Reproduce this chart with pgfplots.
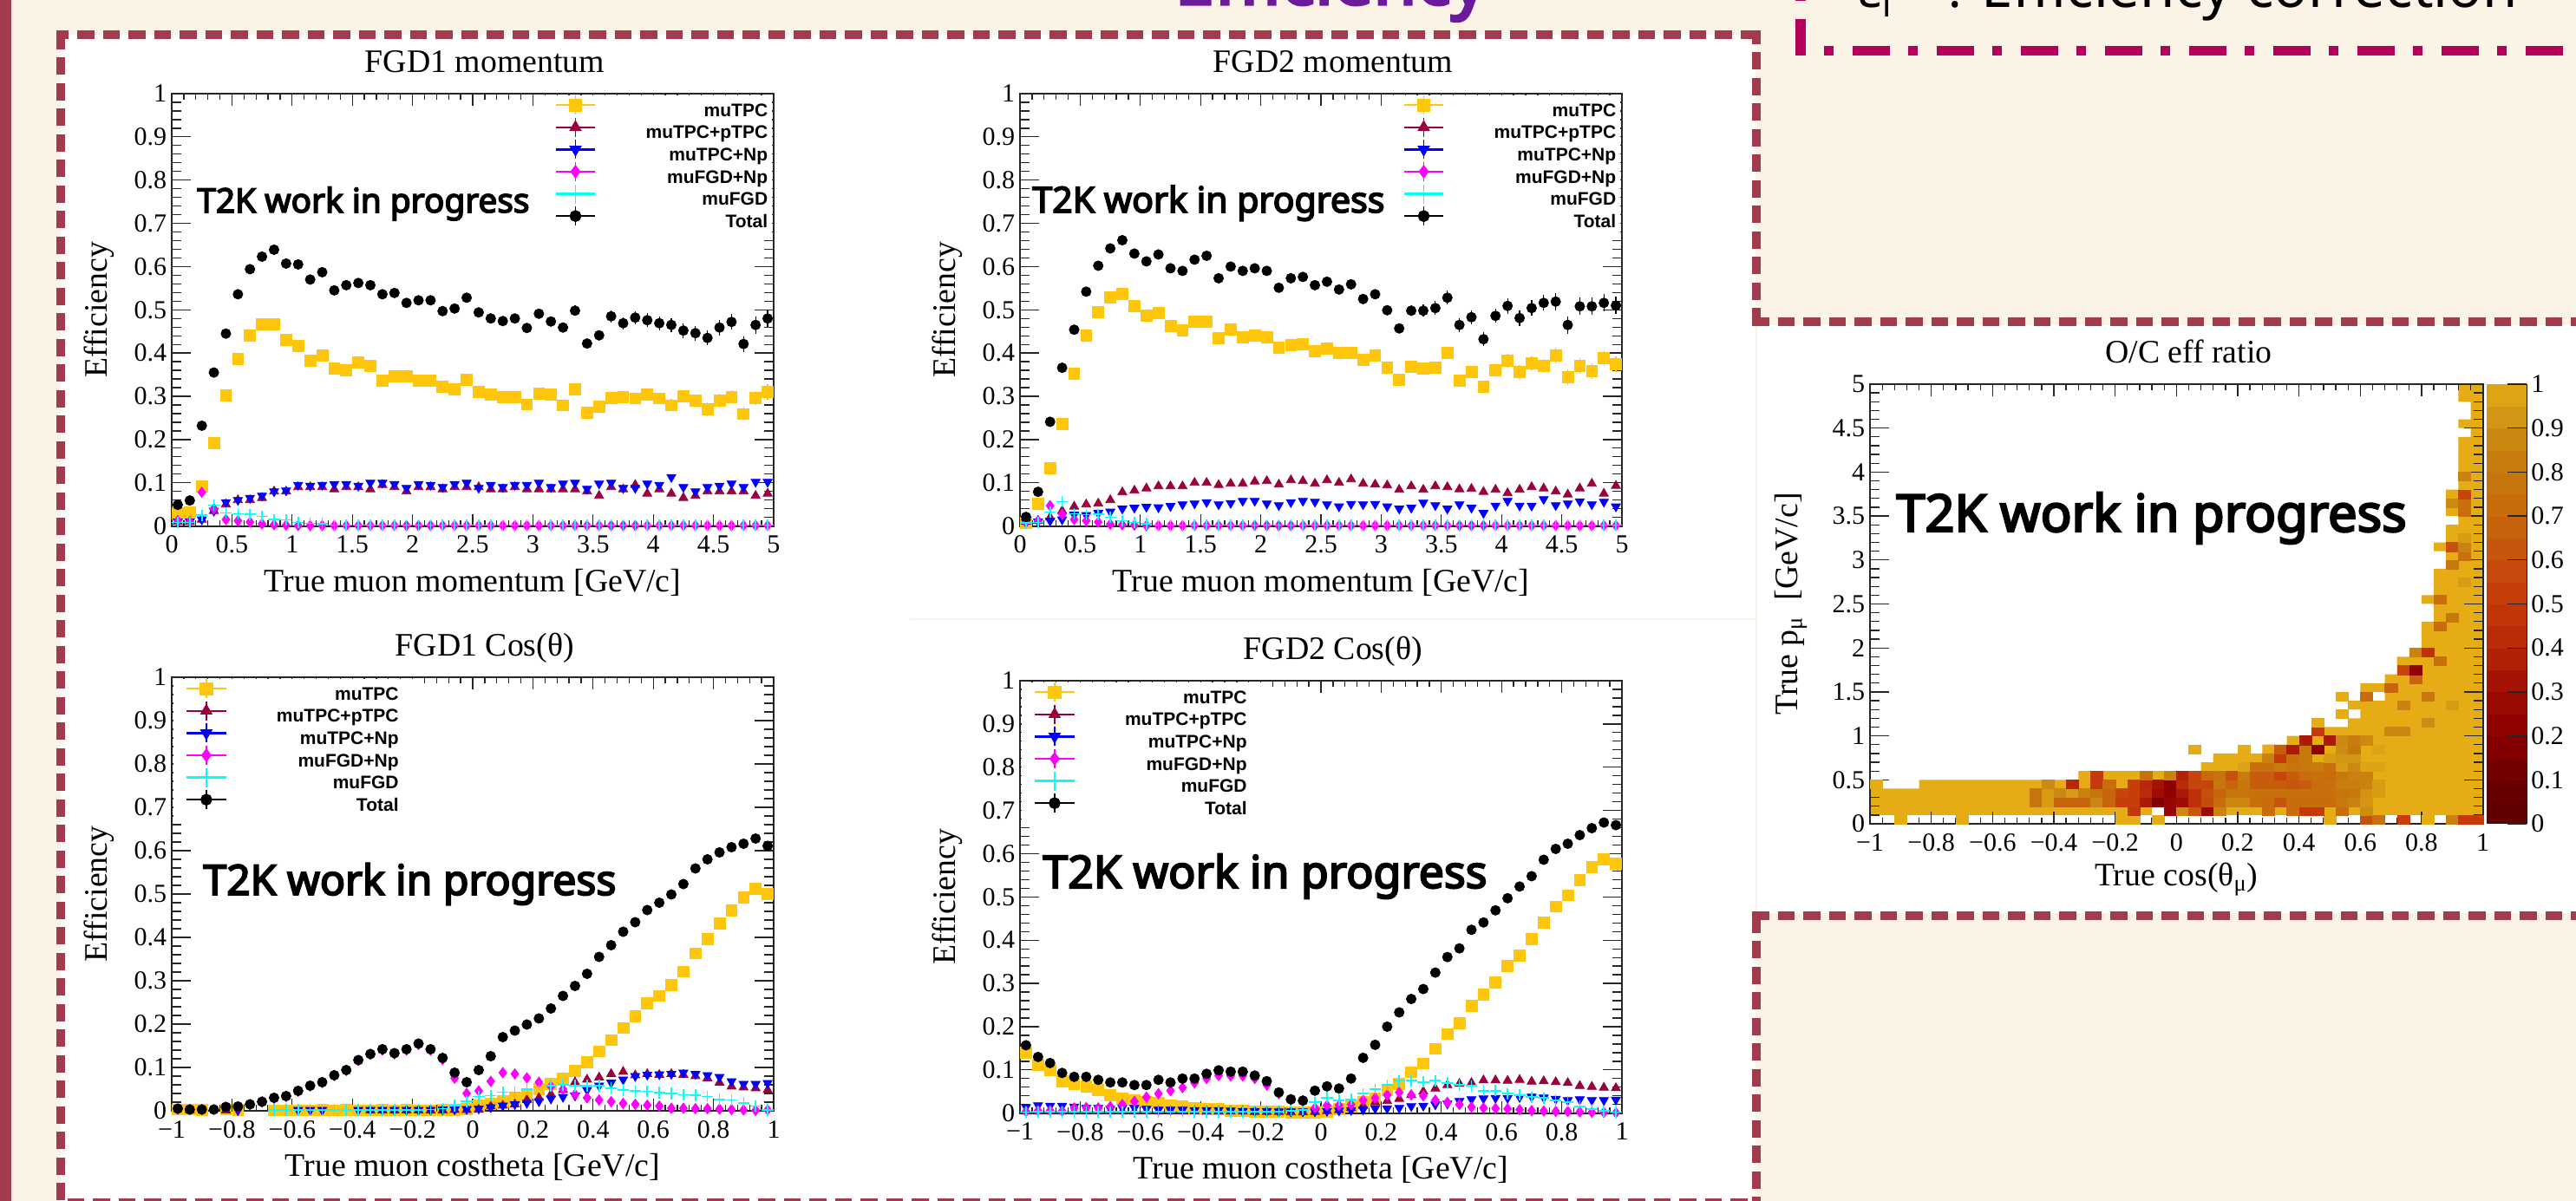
\documentclass[border=0pt]{standalone}
\usepackage{fontspec}
\usepackage{graphicx}
\usepackage{pgfplots}
\usepackage{pgfplotstable}
\pgfplotsset{compat=1.18}
\usetikzlibrary{plotmarks}
\setmainfont{Liberation Serif}
\newfontfamily\legfont{Liberation Sans}
\newfontfamily\noto[AutoFakeBold=4]{Noto Sans}

\definecolor{cream}{HTML}{FBF3E5}
\definecolor{rose}{HTML}{A33B4E}
\definecolor{crimson}{HTML}{B5005B}
\definecolor{violet}{HTML}{6A1B9A}
\definecolor{ctpc}{HTML}{FFC60B}
\definecolor{cptpc}{HTML}{99003D}
\definecolor{cnp}{RGB}{0,0,255}
\definecolor{cfgdnp}{RGB}{255,0,255}
\definecolor{cfgd}{RGB}{0,255,255}
\definecolor{cgold}{HTML}{E5AC16}

% one heat map bin: 14.13 x 10.14 px at 2 px per pt
\pgfdeclareplotmark{cell}{%
  \pgfpathrectangle{\pgfpoint{-3.53pt}{-2.535pt}}{\pgfpoint{7.06pt}{5.07pt}}%
  \pgfusepathqfillstroke}

% FGD1 momentum
\pgfplotstableread{
x tpc ptpc np fgdnp fgd tot etpc etot
0.05 .030 .010 .010 .012 .008 .049 0 0
0.15 .032 .010 .010 .010 .008 .059 0 0
0.25 .091 .015 .015 .078 .025 .232 0 0
0.35 .192 .035 .035 .040 .048 .355 0 0
0.45 .302 .050 .055 .015 .030 .445 0 0
0.55 .387 .060 .060 .012 .028 .536 0 0
0.65 .441 .060 .065 .009 .027 .594 0 0
0.75 .466 .065 .070 .005 .022 .623 0 0
0.85 .466 .080 .080 .003 .015 .639 0 0
0.95 .430 .080 .082 .002 .014 .607 0 0
1.05 .416 .090 .095 .001 .008 .605 .002 .003
1.15 .382 .090 .093 .001 .006 .570 .002 .003
1.25 .394 .090 .095 .001 .005 .587 .002 .003
1.35 .364 .085 .097 .001 .002 .545 .002 .003
1.45 .361 .090 .097 .001 .002 .557 .002 .003
1.55 .379 .090 .093 .001 .002 .562 .003 .004
1.65 .370 .085 .100 .001 .002 .557 .003 .004
1.75 .336 .095 .100 .001 .002 .536 .003 .004
1.85 .347 .090 .097 .001 .002 .539 .003 .004
1.95 .347 .080 .088 .001 .002 .516 .003 .004
2.05 .336 .090 .097 .001 .002 .522 .004 .005
2.15 .336 .090 .095 .001 .002 .522 .004 .005
2.25 .322 .085 .090 .001 .002 .497 .004 .005
2.35 .316 .090 .097 .001 .002 .503 .004 .005
2.45 .339 .090 .100 .001 .002 .528 .005 .006
2.55 .311 .090 .088 .001 .002 .494 .005 .006
2.65 .305 .085 .095 .001 .002 .480 .005 .006
2.75 .299 .085 .090 .001 .002 .474 .005 .007
2.85 .299 .090 .095 .001 .002 .480 .006 .007
2.95 .281 .085 .095 .001 .002 .458 .006 .007
3.05 .307 .085 .100 .001 .002 .491 .006 .008
3.15 .305 .085 .090 .001 .002 .473 .006 .008
3.25 .279 .085 .098 .001 .002 .459 .007 .009
3.35 .316 .085 .100 .001 .002 .498 .007 .012
3.45 .262 .080 .086 .001 .002 .422 .007 .012
3.55 .276 .070 .098 .001 .002 .441 .008 .012
3.65 .296 .090 .100 .001 .002 .485 .010 .014
3.75 .298 .085 .088 .001 .002 .469 .012 .014
3.85 .295 .095 .088 .001 .002 .482 .012 .015
3.95 .305 .075 .098 .001 .002 .476 .014 .016
4.05 .295 .085 .095 .001 .002 .469 .014 .016
4.15 .279 .075 .113 .001 .002 .465 .014 .016
4.25 .300 .065 .090 .001 .002 .452 .015 .017
4.35 .290 .070 .080 .001 .002 .446 .015 .017
4.45 .270 .080 .090 .001 .002 .435 .016 .017
4.55 .290 .080 .093 .001 .002 .459 .016 .018
4.65 .299 .080 .098 .001 .002 .472 .016 .018
4.75 .259 .080 .090 .001 .002 .421 .016 .018
4.85 .296 .070 .102 .001 .002 .465 .016 .020
4.95 .310 .075 .102 .001 .002 .480 .018 .020
}\tabA

% FGD2 momentum
\pgfplotstableread{
x tpc ptpc np fgdnp fgd tot etpc etot
0.05 .008 .010 .008 .010 .007 .021 0 0
0.15 .052 .012 .010 .012 .008 .079 0 0
0.25 .133 .020 .012 .047 .032 .241 0 0
0.35 .236 .035 .015 .027 .056 .366 0 0
0.45 .352 .045 .026 .015 .028 .454 0 0
0.55 .441 .050 .025 .012 .026 .542 0 0
0.65 .494 .052 .030 .009 .027 .602 0 0
0.75 .529 .060 .033 .004 .020 .642 0 0
0.85 .537 .078 .040 .003 .012 .661 0 0
0.95 .508 .082 .042 .002 .008 .630 0 0
1.05 .486 .087 .044 .001 .005 .612 .002 .003
1.15 .492 .092 .043 .001 .002 .628 .002 .003
1.25 .463 .092 .046 .001 .002 .596 .002 .003
1.35 .453 .092 .050 .001 .002 .590 .002 .003
1.45 .472 .100 .052 .001 .002 .616 .002 .003
1.55 .472 .100 .055 .001 .002 .625 .003 .004
1.65 .435 .095 .050 .001 .002 .573 .003 .004
1.75 .454 .098 .053 .001 .002 .600 .003 .004
1.85 .437 .098 .058 .001 .002 .590 .003 .004
1.95 .441 .103 .058 .001 .002 .596 .003 .004
2.05 .437 .104 .052 .001 .002 .590 .004 .005
2.15 .412 .096 .048 .001 .002 .551 .004 .005
2.25 .418 .106 .055 .001 .002 .573 .004 .005
2.35 .421 .104 .058 .001 .002 .576 .004 .005
2.45 .404 .098 .056 .001 .002 .557 .005 .006
2.55 .410 .106 .050 .001 .002 .565 .005 .006
2.65 .401 .100 .045 .001 .002 .547 .005 .006
2.75 .401 .108 .051 .001 .002 .559 .005 .007
2.85 .384 .098 .050 .001 .002 .525 .006 .007
2.95 .395 .096 .051 .001 .002 .536 .006 .007
3.05 .367 .094 .045 .001 .002 .499 .006 .008
3.15 .339 .084 .040 .001 .002 .457 .006 .008
3.25 .369 .092 .042 .001 .002 .498 .010 .012
3.35 .365 .084 .054 .001 .002 .498 .012 .014
3.45 .367 .092 .048 .001 .002 .504 .014 .016
3.55 .400 .090 .040 .001 .002 .528 .014 .016
3.65 .336 .085 .050 .001 .002 .465 .014 .016
3.75 .356 .086 .042 .001 .002 .483 .014 .016
3.85 .323 .079 .030 .001 .002 .432 .014 .016
3.95 .361 .084 .047 .001 .002 .486 .014 .016
4.05 .382 .076 .058 .001 .002 .509 .016 .018
4.15 .356 .084 .047 .001 .002 .481 .016 .018
4.25 .376 .090 .047 .001 .002 .504 .016 .018
4.35 .370 .087 .062 .001 .002 .516 .016 .018
4.45 .394 .080 .048 .001 .002 .519 .018 .020
4.55 .344 .073 .052 .001 .002 .465 .018 .020
4.65 .370 .087 .057 .001 .002 .508 .018 .020
4.75 .359 .098 .050 .001 .002 .508 .018 .020
4.85 .388 .075 .056 .001 .002 .516 .018 .020
4.95 .375 .093 .045 .001 .002 .510 .018 .020
}\tabB

% FGD1 cos(theta)
\pgfplotstableread{
x tpc ptpc np fgdnp fgd tot etpc etot
-0.98 .003 nan nan .004 nan .005 0 0
-0.94 .003 .002 nan .003 nan .003 0 0
-0.90 .002 nan nan .003 nan .003 0 0
-0.86 nan nan nan .003 nan .003 0 0
-0.82 .003 .001 nan .008 nan .009 0 .008
-0.78 .002 nan .001 .009 nan .010 0 .008
-0.74 nan nan nan .014 nan .015 0 .005
-0.70 nan nan nan .020 nan .021 0 .012
-0.66 .001 nan nan .029 .002 .030 0 .012
-0.62 .001 nan nan .033 .002 .034 0 .012
-0.58 .001 nan .002 .045 .002 .046 0 0
-0.54 .001 nan .002 .057 .002 .058 0 0
-0.50 .002 nan .002 .065 .002 .066 0 0
-0.46 .001 nan nan .081 .002 .082 0 0
-0.42 .002 nan nan .093 .002 .094 0 0
-0.38 .001 nan .002 .116 .002 .117 0 0
-0.34 .001 .001 .002 .130 .002 .131 0 0
-0.30 .002 .001 .002 .140 .002 .142 0 0
-0.26 .001 .001 .002 .131 .002 .133 0 0
-0.22 .002 .001 .002 .140 .002 .142 0 0
-0.18 .001 .001 .002 .153 .002 .155 0 0
-0.14 .001 .001 .002 .140 .003 .142 0 0
-0.10 .002 .001 .003 .118 .005 .122 0 0
-0.06 .002 .002 .003 .075 .012 .088 0 0
-0.02 .004 .002 .004 .040 .022 .066 0 0
0.02 .012 .003 .005 .046 .033 .094 0 0
0.06 .017 .010 .008 .068 .035 .126 0 0
0.10 .022 .012 .012 .088 .043 .170 0 0
0.14 .028 .015 .015 .085 .043 .185 0 0
0.18 .038 .025 .018 .076 .050 .199 0 0
0.22 .050 .030 .022 .066 .055 .213 0 0
0.26 .062 .038 .028 .056 .058 .236 0 0
0.30 .074 .048 .032 .050 .060 .265 0 0
0.34 .092 .066 .035 .038 .058 .288 0 0
0.38 .112 .072 .048 .030 .058 .316 0 0
0.42 .137 .077 .058 .025 .058 .355 0 0
0.46 .163 .085 .065 .021 .052 .382 0 0
0.50 .191 .090 .072 .017 .048 .413 0 0
0.54 .218 .082 .080 .015 .046 .435 0 0
0.58 .248 .085 .083 .013 .045 .463 0 0
0.62 .265 .083 .084 .011 .042 .480 0 0
0.66 .290 .085 .085 .006 .040 .499 0 0
0.70 .321 .083 .088 .006 .037 .523 0 0
0.74 .363 .080 .085 .005 .036 .559 0 0
0.78 .396 .075 .082 .005 .033 .580 0 0
0.82 .432 .065 .078 .004 .026 .596 0 0
0.86 .462 .056 .068 .003 .025 .608 0 0
0.90 .492 .054 .062 .002 .018 .616 0 0
0.94 .512 .052 .062 .001 .011 .628 0 0
0.98 .500 .048 .064 .002 .002 .611 0 0
}\tabC

% FGD2 cos(theta)
\pgfplotstableread{
x tpc ptpc np fgdnp fgd tot etpc etot
-0.98 .140 .004 .014 .004 .002 .157 0 0
-0.94 .112 .004 .018 .006 .003 .130 0 0
-0.90 .100 .004 .017 .006 .003 .116 0 0
-0.86 .073 .004 .017 .005 .003 .093 0 0
-0.82 .067 .004 .015 .012 .003 .084 0 0
-0.78 .061 .004 .012 .013 .003 .084 0 0
-0.74 .053 .004 .012 .012 .003 .077 0 0
-0.70 .041 .004 .010 .015 .003 .071 0 0
-0.66 .033 .004 .012 .020 .003 .071 0 0
-0.62 .029 .004 .012 .027 .003 .065 0 0
-0.58 .025 .004 .010 .037 .003 .065 0 0
-0.54 .024 .004 .008 .045 .003 .077 0 0
-0.50 .018 .004 .008 .052 .003 .071 0 0
-0.46 .015 .004 .008 .059 .003 .080 0 0
-0.42 .012 .004 .007 .070 .003 .080 0 0
-0.38 .010 .004 .007 .080 .003 .091 0 0
-0.34 .009 .004 .007 .087 .003 .099 0 0
-0.30 .006 .004 .006 .086 .003 .096 0 0
-0.26 .005 .004 .005 .086 .003 .096 0 0
-0.22 .004 .003 .005 .080 .003 .087 0 0
-0.18 .004 .003 .005 .065 .003 .074 0 0
-0.14 .003 .003 .004 .045 .003 .048 0 0
-0.10 .002 .002 .004 .030 .006 .032 0 0
-0.06 .002 .002 .004 .028 .008 .029 0 0
-0.02 .002 .003 .004 .012 .025 .052 0 0
0.02 .004 .005 .005 .018 .036 .062 0 0
0.06 .010 .007 .006 .018 .030 .057 0 0
0.10 .015 .012 .007 .020 .032 .080 0 0
0.14 .025 .017 .008 .030 .045 .128 0 0
0.18 .033 .025 .011 .035 .055 .158 0 0
0.22 .053 .028 .011 .042 .065 .200 0 0
0.26 .068 .033 .012 .048 .075 .233 0 0
0.30 .095 .042 .016 .042 .075 .264 0 0
0.34 .115 .050 .017 .040 .072 .287 0 0
0.38 .149 .057 .020 .030 .075 .325 0 0
0.42 .183 .065 .022 .025 .070 .361 0 0
0.46 .208 .068 .028 .020 .065 .381 0 0
0.50 .249 .070 .032 .014 .063 .424 0 0
0.54 .274 .076 .034 .012 .052 .441 0 0
0.58 .302 .076 .035 .011 .052 .469 0 0
0.62 .340 .075 .035 .010 .045 .497 0 0
0.66 .365 .077 .037 .008 .042 .524 0 0
0.70 .402 .073 .038 .006 .037 .548 0 0
0.74 .441 .074 .036 .005 .035 .586 0 0
0.78 .478 .072 .033 .004 .030 .611 0 0
0.82 .504 .070 .030 .004 .026 .623 0 0
0.86 .539 .063 .032 .003 .016 .643 0 0
0.90 .569 .061 .030 .002 .009 .659 0 0
0.94 .587 .059 .030 .002 .005 .672 0 0
0.98 .577 .058 .031 .001 .002 .666 0 0
}\tabD

\pgfplotsset{
  colormap={ratio}{rgb255=(92,0,0) rgb255=(110,0,0) rgb255=(140,0,0) rgb255=(160,12,4)
    rgb255=(182,40,7) rgb255=(198,58,9) rgb255=(198,80,13) rgb255=(200,105,12)
    rgb255=(198,120,12) rgb255=(204,141,19) rgb255=(229,172,22)},
  legpad/.initial=0pt,
  rootframe/.style={
    scale only axis, clip=false,
    axis line style={line width=1pt,color=black!85},
    major tick length=10.8pt, minor tick length=5.4pt,
    tick style={color=black!85,line width=0.65pt},
    xtick style={/pgfplots/major tick length=7pt,/pgfplots/minor tick length=3.5pt},
    minor tick num=4,
    tick label style={font=\fontsize{15}{15}\selectfont,inner sep=0pt},
    xticklabel shift=5.5pt, yticklabel shift=2.7pt,
    title style={font=\fontsize{18.9}{19}\selectfont,at={(axis description cs:0.52,1)},anchor=base,yshift=6pt},
    label style={font=\fontsize{18.9}{19}\selectfont},
    xlabel style={at={(axis description cs:0.5,-0.152)},anchor=base},
    ylabel style={at={(axis description cs:-0.1067,0.5)},anchor=base},
  },
  eff/.style={
    rootframe, width=347pt,
    ymin=0, ymax=1,
    ytick={0,0.1,0.2,0.3,0.4,0.5,0.6,0.7,0.8,0.9,1},
    yticklabels={0,0.1,0.2,0.3,0.4,0.5,0.6,0.7,0.8,0.9,1},
    ylabel={Efficiency},
    legend cell align=right,
    legend style={
      draw=none, fill=white, inner xsep=2.5pt, inner ysep=4.8pt, row sep=5.6pt,
      /tikz/column 1/.style={column sep=29pt},
      nodes={inner sep=0pt,text height=7.2pt,text depth=0pt,
             font=\legfont\fontsize{10.5}{10.5}\selectfont\bfseries},
    },
    legend image code/.code={
      \path (-\pgfkeysvalueof{/pgfplots/legpad},0) (22.7pt,0);
      \draw[overlay,yshift=3pt,##1,sharp plot,mark=none,line width=0.6pt] plot coordinates {(11.35pt,-5.5pt)(11.35pt,5.5pt)};
      \draw[overlay,yshift=3pt,##1,sharp plot,mark repeat=2,mark phase=2,line width=1.2pt] plot coordinates {(0pt,0pt)(11.35pt,0pt)(22.7pt,0pt)};
    },
    legend entries={muTPC\hspace*{\legrp},muTPC+pTPC\hspace*{\legrp},muTPC+Np\hspace*{\legrp},muFGD+Np\hspace*{\legrp},muFGD\hspace*{\legrp},Total\hspace*{\legrp}},
  },
  momentum/.style={
    eff, xmin=0, xmax=5,
    xtick={0,0.5,1,1.5,2,2.5,3,3.5,4,4.5,5},
    xticklabels={0,0.5,1,1.5,2,2.5,3,3.5,4,4.5,5},
    xlabel={True muon momentum [GeV/c]},
    legpad=9pt,
    legend style={at={(1,1)},anchor=north east,xshift=-0.7pt,yshift=-1pt},
  },
  costheta/.style={
    eff, xmin=-1, xmax=1,
    xtick={-1,-0.8,-0.6,-0.4,-0.2,0,0.2,0.4,0.6,0.8,1},
    xticklabels={−1,−0.8,−0.6,−0.4,−0.2,0,0.2,0.4,0.6,0.8,1},
    xlabel={True muon costheta [GeV/c]},
    legpad=5pt,
    legend style={at={(0,1)},anchor=north west,xshift=0.7pt,yshift=-1pt},
  },
  s tpc/.style={only marks,color=ctpc,mark=square*,mark size=3.2pt,mark options={solid}},
  s ptpc/.style={only marks,color=cptpc,mark=triangle*,mark size=3pt,mark options={solid}},
  s np/.style={only marks,color=cnp,mark=triangle*,mark size=3pt,mark options={solid,rotate=180}},
  s fgdnp/.style={only marks,color=cfgdnp,mark=diamond*,mark size=3pt,mark options={solid}},
  s fgd/.style={only marks,color=cfgd,mark=+,mark size=3.3pt,mark options={solid,line width=0.8pt}},
  s tot/.style={only marks,color=black,mark=*,mark size=2.8pt,mark options={solid}},
  bars/.style={error bars/.cd,y dir=both,y explicit,error mark=none,error bar style={line width=0.6pt}},
}

\newcommand{\effplots}[1]{%
  \addplot[s tpc,bars] table[x=x,y=tpc,y error=etpc]{#1};
  \addplot[s ptpc] table[x=x,y=ptpc]{#1};
  \addplot[s np] table[x=x,y=np]{#1};
  \addplot[s fgdnp] table[x=x,y=fgdnp]{#1};
  \addplot[s fgd] table[x=x,y=fgd]{#1};
  \addplot[s tot,bars] table[x=x,y=tot,y error=etot]{#1};
}
\newcommand{\wip}[1]{\resizebox{#1}{!}{\noto\bfseries T2K work in progress}}

\begin{document}
\begin{tikzpicture}
\useasboundingbox (0,0) rectangle (1485pt,692.5pt);
\clip (0,0) rectangle (1485pt,692.5pt);

% slide background: 1 px of the reference is 0.5pt here
\fill[cream] (0,0) rectangle (1485pt,692.5pt);
\fill[rose] (0,0) rectangle (6.5pt,692.5pt);
\fill[white] (35pt,0) rectangle (1012pt,672.5pt);
\fill[white] (1013pt,166pt) rectangle (1485pt,505pt);
\draw[cream,line width=1pt] (524.5pt,335.5pt) -- (1012pt,335.5pt);

\begin{scope}[rose,line width=5pt,dash pattern=on 9.8pt off 4.95pt]
  \draw[dash phase=2.7pt] (32.5pt,672.5pt) -- (1012.5pt,672.5pt);
  \draw (35pt,674pt) -- (35pt,0pt);
  \draw[dash phase=2pt] (1012.5pt,675pt) -- (1012.5pt,507pt);
  \draw (1010pt,507pt) -- (1485pt,507pt);
  \draw (1010pt,164.5pt) -- (1485pt,164.5pt);
  \draw (1012.5pt,164.5pt) -- (1012.5pt,0pt);
  \draw (38.8pt,-1pt) -- (1012.5pt,-1pt);
\end{scope}

% crimson box at the top right
\fill[crimson] (1035pt,692.5pt) rectangle (1041pt,692pt);
\fill[crimson] (1035pt,660.5pt) rectangle (1041pt,681.5pt);
\draw[crimson,line width=5.5pt,dash pattern=on 5.5pt off 10.75pt on 21.5pt off 10.75pt] (1051.5pt,663.25pt) -- (1485pt,663.25pt);

% headings cut by the top of the page
\node[anchor=base west,inner sep=0pt,text=violet] at (677pt,690pt) {\resizebox{180pt}{!}{\noto\bfseries Efficiency}};
\node[anchor=base west,inner sep=0pt] at (1071pt,688pt) {\noto\fontsize{29}{29}\selectfont ε};
\node[anchor=base west,inner sep=0pt] at (1085pt,682.5pt) {\noto\fontsize{20}{20}\selectfont l};
\node[anchor=base west,inner sep=0pt] at (1123pt,688pt) {\noto\fontsize{29}{29}\selectfont :};
\node[anchor=base west,inner sep=0pt] at (1142pt,688pt) {\resizebox{309pt}{!}{\noto Efficiency correction}};

% FGD1 momentum
\def\legrp{0pt}
\begin{axis}[momentum,height=249.3pt,at={(99pt,389.2pt)},anchor=south west,title={FGD1 momentum}]
\effplots{\tabA}
\end{axis}

% FGD2 momentum
\begin{axis}[momentum,height=249.3pt,at={(588pt,389.2pt)},anchor=south west,title={FGD2 momentum}]
\effplots{\tabB}
\end{axis}

% FGD1 cos
\def\legrp{6.5pt}
\begin{axis}[costheta,height=250pt,at={(99pt,52pt)},anchor=south west,title={FGD1 Cos(θ)}]
\effplots{\tabC}
\end{axis}

% FGD2 cos
\begin{axis}[costheta,height=249.35pt,at={(588pt,50.65pt)},anchor=south west,title={FGD2 Cos(θ)}]
\effplots{\tabD}
\end{axis}

% O/C efficiency ratio
\begin{axis}[rootframe,width=353.3pt,height=253.5pt,at={(1078pt,217.5pt)},anchor=south west,
  axis on top,
  xmin=-1,xmax=1,ymin=0,ymax=5,
  xtick={-1,-0.8,-0.6,-0.4,-0.2,0,0.2,0.4,0.6,0.8,1},
  xticklabels={−1,−0.8,−0.6,−0.4,−0.2,0,0.2,0.4,0.6,0.8,1},
  ytick={0,0.5,1,1.5,2,2.5,3,3.5,4,4.5,5},
  yticklabels={0,0.5,1,1.5,2,2.5,3,3.5,4,4.5,5},
  title={O/C eff ratio},
  xlabel={True cos(θ\textsubscript{μ})},
  ylabel={True p\textsubscript{μ}\ \ [GeV/c]},
  ylabel style={at={(axis description cs:-0.1182,0.5)},anchor=base},
  xlabel style={at={(axis description cs:0.5,-0.142)},anchor=base},
  point meta min=0,point meta max=1,
  colorbar,colorbar sampled,
  colorbar style={
    samples=21,
    at={(1.0062,0)},anchor=south west,width=23pt,
    axis y line*=right,axis x line=none,
    tick align=inside,
    major tick length=11pt,
    ytick={0,0.1,0.2,0.3,0.4,0.5,0.6,0.7,0.8,0.9,1},
    yticklabels={0,0.1,0.2,0.3,0.4,0.5,0.6,0.7,0.8,0.9,1},
    minor tick num=0,
    yticklabel shift=2.5pt,
  },
]
% the bins at full ratio, as one outline
\addplot[fill=cgold,draw=none,forget plot] coordinates {
  (1,0.1) (-0.04,0.1) (-0.04,0.2) (-0.08,0.2) (-0.08,0.1) (-1,0.1) (-1,0.4) (-0.84,0.4) (-0.84,0.5)
  (-0.32,0.5) (-0.32,0.6) (0.08,0.6) (0.08,0.7) (0.12,0.7) (0.12,0.8) (0.28,0.8) (0.28,0.9)
  (0.36,0.9) (0.36,1.0) (0.44,1.0) (0.44,1.1) (0.56,1.1) (0.56,1.2) (0.6,1.2) (0.6,1.3)
  (0.56,1.3) (0.56,1.4) (0.68,1.4) (0.68,1.5) (0.6,1.5) (0.6,1.6) (0.68,1.6) (0.68,1.7)
  (0.72,1.7) (0.72,1.9) (0.76,1.9) (0.76,2.0) (0.8,2.0) (0.8,2.3) (0.84,2.3) (0.84,2.5)
  (0.8,2.5) (0.8,2.6) (0.84,2.6) (0.84,2.9) (0.88,2.9) (0.88,3.1) (0.84,3.1) (0.84,3.2)
  (0.88,3.2) (0.88,3.4) (0.92,3.4) (0.92,3.5) (0.88,3.5) (0.88,3.8) (0.92,3.8) (0.92,4.4)
  (0.96,4.4) (0.96,4.5) (0.92,4.5) (0.92,4.6) (0.96,4.6) (0.96,4.8) (0.92,4.8) (0.92,5) (1,5)
} -- cycle;
% all other bins
\addplot[scatter,only marks,mark=cell,mark options={line width=0.1pt},point meta=explicit,
  scatter/use mapped color={draw=mapped color,fill=mapped color}] coordinates {
  (-.90,.05)[1] (-.70,.05)[1] (-.18,.05)[1] (-.14,.05)[1] (-.06,.05)[1] (.50,.05)[1] (.62,.05)[.6]
  (.66,.05)[.75] (.74,.05)[.52] (.82,.05)[1] (.90,.05)[.85] (.94,.05)[.5] (.98,.05)[.5]
  (-.14,.15)[.48] (-.02,.15)[.25] (.02,.15)[.88] (.06,.15)[.62] (.10,.15)[.28] (.14,.15)[.85]
  (.30,.15)[.72] (.38,.15)[.72] (.42,.15)[.5] (.46,.15)[.5] (.54,.15)[.72] (.62,.15)[.9]
  (-.46,.25)[.78] (-.42,.25)[.95] (-.38,.25)[.68] (-.34,.25)[.68] (-.30,.25)[.68] (-.26,.25)[.87]
  (-.22,.25)[.68] (-.18,.25)[.52] (-.14,.25)[.52] (-.10,.25)[.35] (-.06,.25)[.15] (-.02,.25)[.25]
  (.02,.25)[.3] (.06,.25)[.45] (.10,.25)[.58] (.14,.25)[.72] (.18,.25)[.87] (.22,.25)[.87]
  (.26,.25)[.75] (.30,.25)[.72] (.34,.25)[.62] (.38,.25)[.72] (.42,.25)[.72] (.46,.25)[.72]
  (.50,.25)[.72] (.54,.25)[.8] (.58,.25)[.85] (.62,.25)[.93]
  (-.46,.35)[.78] (-.42,.35)[.95] (-.38,.35)[.88] (-.34,.35)[.95] (-.30,.35)[.85] (-.26,.35)[.78]
  (-.22,.35)[.68] (-.18,.35)[.55] (-.14,.35)[.52] (-.10,.35)[.42] (-.06,.35)[.3] (-.02,.35)[.22]
  (.02,.35)[.35] (.06,.35)[.45] (.10,.35)[.6] (.14,.35)[.68] (.18,.35)[.78] (.22,.35)[.78]
  (.26,.35)[.75] (.30,.35)[.75] (.34,.35)[.75] (.38,.35)[.75] (.42,.35)[.75] (.46,.35)[.75]
  (.50,.35)[.75] (.54,.35)[.78] (.58,.35)[.8] (.62,.35)[.92] (.66,.35)[.95]
  (-.98,.45)[1] (-.42,.45)[.88] (-.34,.45)[.4] (-.26,.45)[.5] (-.22,.45)[.72] (-.14,.45)[.52]
  (-.10,.45)[.4] (-.06,.45)[.32] (-.02,.45)[.2] (.02,.45)[.42] (.06,.45)[.55] (.10,.45)[.55]
  (.14,.45)[.8] (.18,.45)[.68] (.22,.45)[.8] (.26,.45)[.65] (.30,.45)[.65] (.34,.45)[.65]
  (.38,.45)[.62] (.42,.45)[.65] (.46,.45)[.72] (.50,.45)[.75] (.54,.45)[.83] (.58,.45)[.83]
  (.62,.45)[.85] (.66,.45)[.95]
  (-.26,.55)[.5] (-.10,.55)[.75] (-.02,.55)[.85] (.02,.55)[.38] (.06,.55)[.55] (.10,.55)[.7]
  (.14,.55)[.78] (.18,.55)[.6] (.22,.55)[.82] (.26,.55)[.65] (.30,.55)[.65] (.34,.55)[.55]
  (.38,.55)[.65] (.42,.55)[.72] (.46,.55)[.75] (.50,.55)[.72] (.54,.55)[.8] (.58,.55)[.85] (.62,.55)[.85]
  (.22,.65)[.97] (.26,.65)[.75] (.30,.65)[.75] (.34,.65)[.82] (.38,.65)[.78] (.42,.65)[.8]
  (.46,.65)[.82] (.50,.65)[.75] (.54,.65)[.95] (.58,.65)[.88] (.62,.65)[.97] (.66,.65)[.97]
  (.30,.75)[.85] (.34,.75)[.5] (.38,.75)[.75] (.42,.75)[.8] (.50,.75)[.95] (.54,.75)[.93] (.58,.75)[.93]
  (.06,.85)[1] (.22,.85)[1] (.34,.85)[.65] (.38,.85)[.35] (.42,.85)[.8] (.46,.85)[.2] (.54,.85)[.9]
  (.58,.85)[.8] (.66,.85)[.97]
  (.42,.95)[.35] (.50,.95)[.35] (.54,.95)[.88] (.58,.95)[.82] (.62,.95)[.88]
  (.46,1.05)[.5] (.70,1.05)[.87] (.74,1.05)[.87]
  (.46,1.15)[1] (.82,1.15)[.9]
  (.54,1.25)[1]
  (.74,1.35)[.85] (.90,1.35)[.95]
  (.54,1.45)[1] (.62,1.45)[.72] (.82,1.45)[.8]
  (.70,1.55)[.68] (.78,1.65)[.68] (.74,1.75)[.55] (.78,1.75)[.22] (.86,1.85)[.75]
  (.78,1.95)[.85] (.82,1.95)[.45] (.86,2.25)[.72] (.90,2.35)[.8] (.86,2.55)[.75]
  (.94,2.75)[.95] (.90,2.95)[.8] (.94,3.05)[.75] (.90,3.15)[.6] (.94,3.15)[.85]
  (.94,3.25)[.95] (.94,3.55)[.72] (.90,3.65)[.88] (.94,3.65)[.75] (.94,3.75)[.55] (.94,3.95)[.85]
};
\end{axis}

% overlay text pasted on the plots
\node[anchor=base west,inner sep=0pt] at (113.5pt,570pt) {\wip{191.5pt}};
\node[anchor=base west,inner sep=0pt] at (595pt,570pt) {\wip{203pt}};
\node[anchor=base west,inner sep=0pt] at (117pt,176.5pt) {\wip{238pt}};
\node[anchor=base west,inner sep=0pt] at (601pt,180.5pt) {\wip{256pt}};
\node[anchor=base west,inner sep=0pt] at (1093pt,386pt) {\wip{294pt}};
\end{tikzpicture}
\end{document}
